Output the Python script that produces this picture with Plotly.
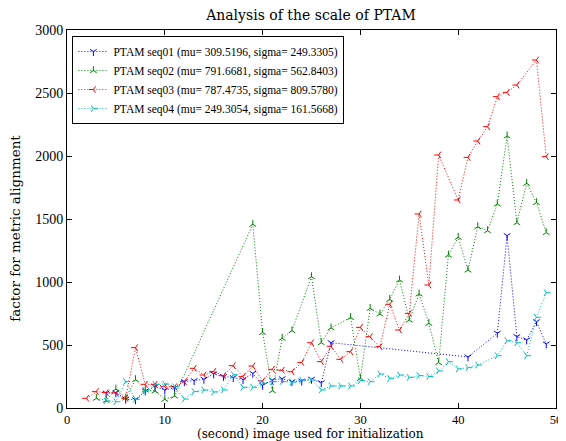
import plotly.graph_objects as go

# ---- data ----
seq01_x = [4, 5, 6, 7, 8, 9, 10, 11, 12, 13, 14, 15, 16, 17, 18, 19, 20, 21, 22, 23, 24, 25, 26, 27,
           41, 44, 45, 46, 47, 48, 49]
seq01_y = [118, 120, 70, 65, 135, 170, 143, 160, 209, 217, 228, 270, 250, 241, 225, 275, 180, 222, 232, 209, 214, 228, 200, 518,
           405, 593, 1368, 566, 540, 685, 508]

seq02_x = [3, 4, 5, 6, 7, 8, 9, 10, 11, 19, 20, 21, 22, 23, 25, 26, 27, 29, 30, 31, 32, 33, 34, 35, 36, 37, 38,
           39, 40, 41, 42, 43, 44, 45, 46, 47, 48, 49]
seq02_y = [77, 60, 150, 80, 225, 143, 135, 69, 95, 1458, 600, 137, 553, 614, 1042, 518, 636, 718, 235, 791, 746, 862, 1016, 698, 905, 672, 360,
           1214, 1355, 1095, 1439, 1407, 1619, 2159, 1471, 1783, 1630, 1392]

seq03_x = [2, 3, 4, 5, 6, 7, 8, 9, 10, 11, 12, 13, 14, 15, 16, 17, 18, 19, 20, 21, 22, 23, 24, 25, 26, 27, 28, 29,
           30, 31, 32, 33, 34, 35, 36, 37, 38, 40, 41, 42, 43, 44, 45, 46, 48, 49]
seq03_y = [77, 130, 122, 120, 77, 479, 188, 188, 170, 169, 209, 315, 262, 290, 256, 336, 249, 333, 215, 307, 300, 288, 362, 518, 368, 490, 386, 447,
           640, 566, 487, 823, 619, 751, 1540, 976, 2008, 1651, 1989, 2119, 2233, 2471, 2505, 2563, 2762, 1995]

seq04_x = [4, 5, 6, 7, 8, 9, 10, 11, 12, 13, 14, 15, 16, 17, 18, 19, 20, 21, 22, 23, 24, 25, 26, 27, 28, 29,
           30, 31, 32, 33, 34, 35, 36, 37, 38, 39, 40, 41, 42, 44, 45, 46, 47, 48, 49]
seq04_y = [56, 50, 210, 69, 135, 188, 190, 169, 71, 130, 143, 127, 143, 265, 164, 164, 196, 210, 210, 205, 222, 222, 143, 175, 175, 175,
           217, 209, 270, 235, 262, 243, 257, 250, 294, 368, 310, 320, 341, 415, 534, 518, 415, 720, 915]

names = [
    "PTAM seq01 (mu= 309.5196, sigma= 249.3305)",
    "PTAM seq02 (mu= 791.6681, sigma= 562.8403)",
    "PTAM seq03 (mu= 787.4735, sigma= 809.5780)",
    "PTAM seq04 (mu= 249.3054, sigma= 161.5668)",
]
x_ticks = [0, 10, 20, 30, 40, 50]
y_ticks = [0, 500, 1000, 1500, 2000, 2500, 3000]

series = [
    (seq01_x, seq01_y, "#0000ff", "y-down"),
    (seq02_x, seq02_y, "#008000", "y-up"),
    (seq03_x, seq03_y, "#ff0000", "y-left"),
    (seq04_x, seq04_y, "#00bfbf", "y-right"),
]

FONT = "Liberation Serif"
FONT2 = "DejaVu Serif"

fig = go.Figure()
for (xs, ys, col, sym), nm in zip(series, names):
    fig.add_trace(go.Scatter(
        x=xs, y=ys, name=nm, mode="lines+markers",
        line=dict(color=col, width=1, dash="1px,2px"),
        marker=dict(symbol=sym, size=5.5, color=col, line=dict(color=col, width=1)),
    ))

axis_common = dict(showline=True, linecolor="black", linewidth=1, mirror="ticks",
                   ticks="inside", ticklen=5, tickcolor="black", showgrid=False,
                   zeroline=False, automargin=False)

fig.update_layout(
    width=558, height=433,
    margin=dict(l=58.5, r=9.5, t=22, b=33, pad=0, autoexpand=False),
    paper_bgcolor="white", plot_bgcolor="white",
    title=dict(text="Analysis of the scale of PTAM", x=0.543, xanchor="center",
               y=0.983, yanchor="middle", font=dict(family=FONT2, size=14, color="black")),
    xaxis=dict(range=[0, 50], tickvals=x_ticks, ticktext=[str(v) for v in x_ticks],
               tickfont=dict(family=FONT, size=12.5, color="black"),
               **axis_common),
    yaxis=dict(range=[0, 3000], tickvals=y_ticks, ticktext=[str(v) for v in y_ticks],
               tickfont=dict(family=FONT, size=14, color="black"),
               **axis_common),
    legend=dict(x=0.011, y=0.984, xanchor="left", yanchor="top",
                bgcolor="white", bordercolor="black", borderwidth=1,
                font=dict(family=FONT, size=11.5, color="black"),
                tracegroupgap=0, itemwidth=30),
    showlegend=True,
    annotations=[
        dict(text="(second) image used for initialization", xref="paper", yref="paper",
             x=0.497, y=-0.0675, xanchor="center", yanchor="middle", showarrow=False,
             font=dict(family=FONT2, size=12, color="black")),
        dict(text="factor for metric alignment", xref="paper", yref="paper",
             x=-0.107, y=0.476, xanchor="center", yanchor="middle", textangle=-90,
             showarrow=False, font=dict(family=FONT2, size=13.5, color="black")),
    ],
)

fig.write_html("out.html")
